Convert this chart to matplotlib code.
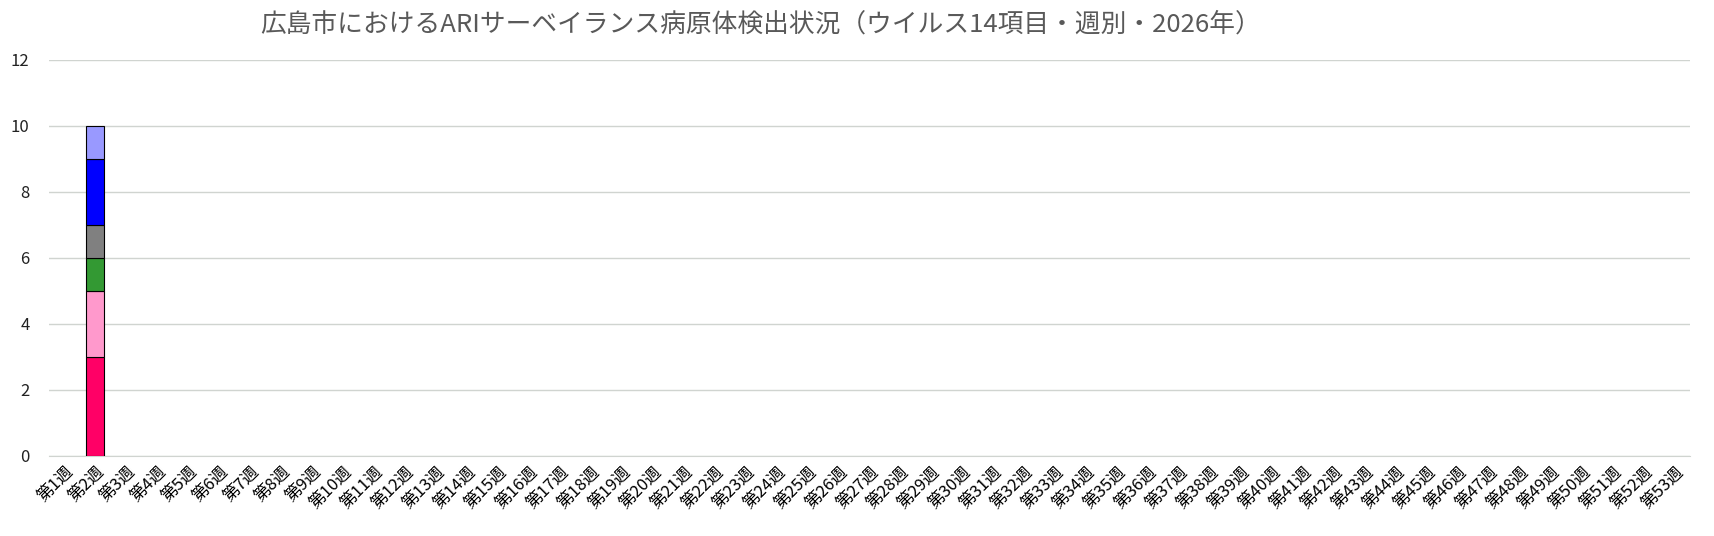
import matplotlib
matplotlib.use("Agg")
import matplotlib.pyplot as plt
import numpy as np

plt.rcParams['font.family'] = ['Noto Sans CJK JP', 'DejaVu Sans']

# weeks 1..53
weeks = [f"第{i}週" for i in range(1, 54)]

# detections per stacked segment (bottom -> top), only week 2 has data so far
seg_colors = ['#FF0066', '#FF99CC', '#339933', '#808080', '#0000FF', '#9999FF']
seg_week2 = [3, 2, 1, 1, 2, 1]

counts = []
for v in seg_week2:
    row = [0] * len(weeks)
    row[1] = v
    counts.append(row)

fig = plt.figure(figsize=(17.14, 5.36), dpi=100)
ax = fig.add_axes([49 / 1714, 1 - 456 / 536, (1690 - 49) / 1714, (456 - 60) / 536])

x = np.arange(len(weeks))
bottom = np.zeros(len(weeks))
for vals, c in zip(counts, seg_colors):
    vals = np.array(vals)
    nz = vals > 0  # skip empty weeks so no edge lines show at zero
    ax.bar(x[nz], vals[nz], bottom=bottom[nz], width=0.58, color=c,
           edgecolor='black', linewidth=0.8, zorder=3)
    bottom += vals

ax.set_xlim(-0.5, len(weeks) - 0.5)
ax.set_ylim(0, 12)
ax.set_yticks(range(0, 13, 2))
ax.yaxis.grid(True, color='#D0D4D0', linewidth=1, zorder=0)
for s in ['top', 'right', 'left']:
    ax.spines[s].set_visible(False)
ax.spines['bottom'].set_color('#D0D4D0')
ax.tick_params(axis='both', length=0)
ax.tick_params(axis='y', labelsize=12, pad=14, colors='#222222')
ax.set_xticks(x)
ax.set_xticklabels(weeks, rotation=45, ha='right', rotation_mode='anchor',
                   fontsize=12, color='#000000')
ax.tick_params(axis='x', pad=5)

fig.text(761 / 1714, 1 - 25 / 536,
         '広島市におけるARIサーベイランス病原体検出状況（ウイルス14項目・週別・2026年）',
         ha='center', va='center', fontsize=18.5, color='#595959')

fig.savefig('out.png', dpi=100)
